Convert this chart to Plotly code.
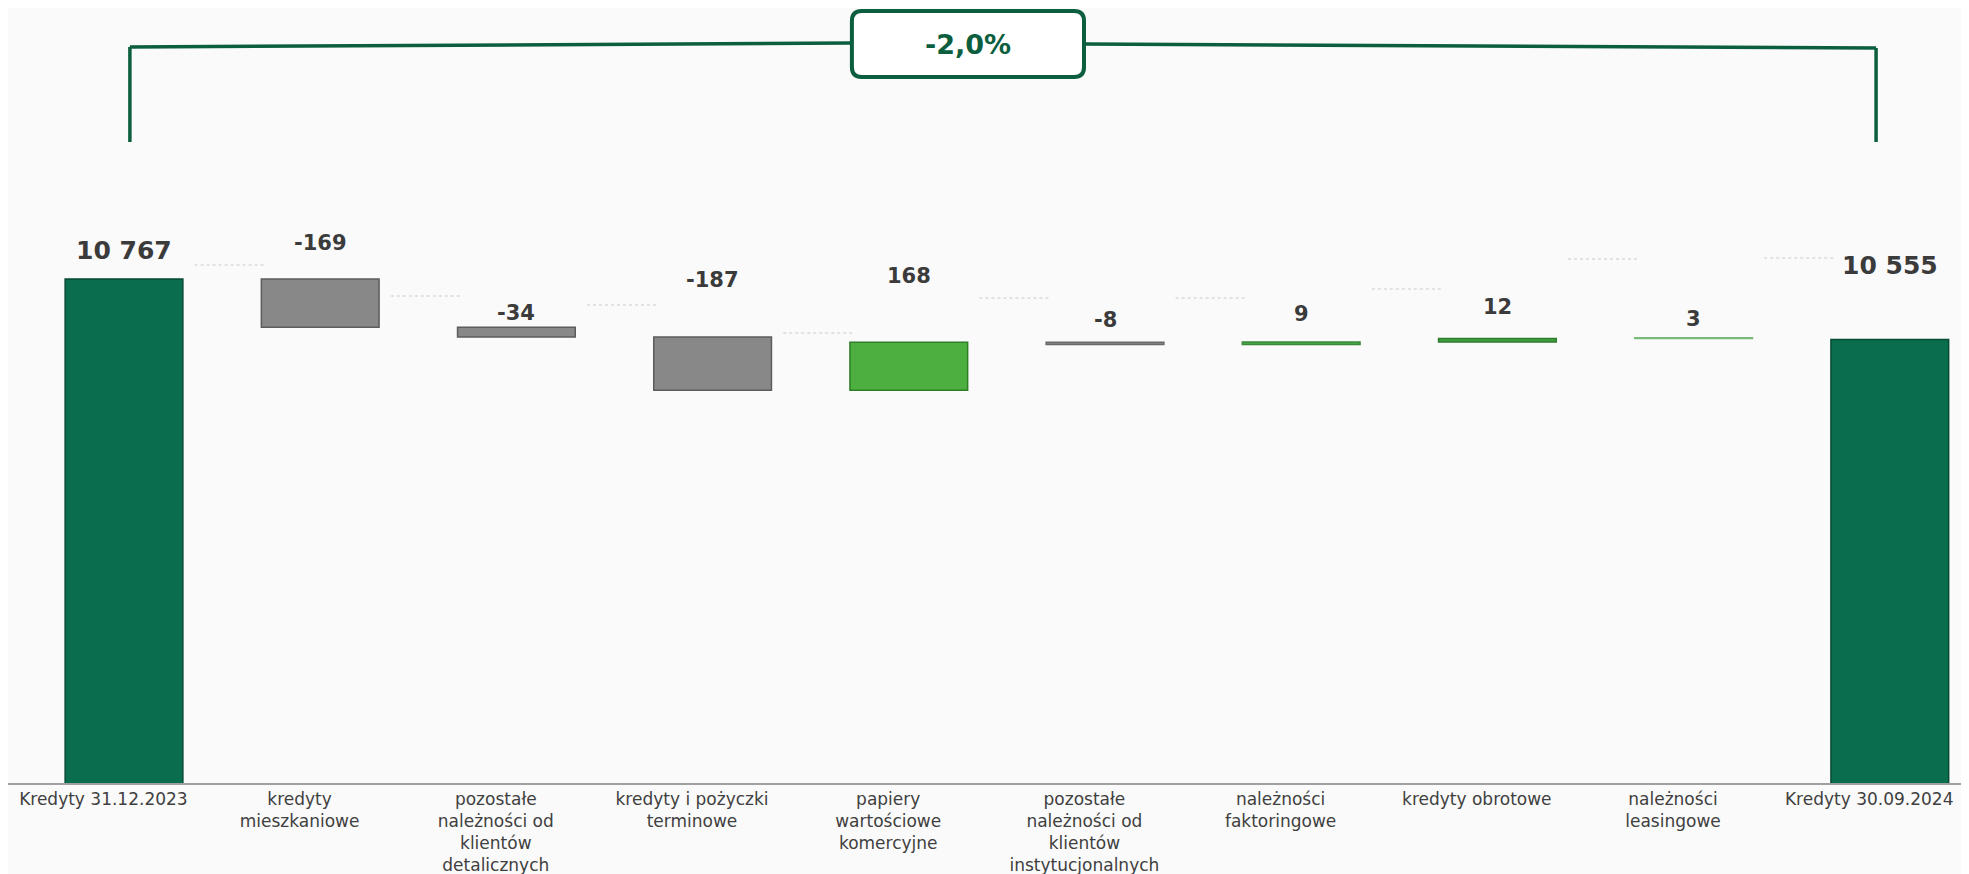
import plotly.graph_objects as go

# ---------------- data ----------------
categories = [
    "Kredyty 31.12.2023",
    "kredyty<br>mieszkaniowe",
    "pozostałe<br>należności od<br>klientów<br>detalicznych",
    "kredyty i pożyczki<br>terminowe",
    "papiery<br>wartościowe<br>komercyjne",
    "pozostałe<br>należności od<br>klientów<br>instytucjonalnych",
    "należności<br>faktoringowe",
    "kredyty obrotowe",
    "należności<br>leasingowe",
    "Kredyty 30.09.2024",
]
values = [10767, -169, -34, -187, 168, -8, 9, 12, 3, 10555]
kinds = ["total", "delta", "delta", "delta", "delta", "delta", "delta", "delta", "delta", "total"]
value_labels = ["10 767", "-169", "-34", "-187", "168", "-8", "9", "12", "3", "10 555"]
change_label = "-2,0%"
connector_levels = [10816, 10707, 10676, 10578, 10700, 10700, 10732, 10837, 10841]

# ---------------- styles ----------------
bar_colors = ["#0a6e4e", "#888888", "#888888", "#888888", "#4caf3f",
              "#888888", "#4ca84c", "#3e9e3e", "#93d193", "#0a6e4e"]
edge_colors = ["#064a34", "#5c5c5c", "#5c5c5c", "#5c5c5c", "#2f7f26",
               "#6a6a6a", "#3a8a3a", "#2e7e2e", "#79b979", "#064a34"]
label_shift = [29, 36, 14, 57, 66, 22, 28, 32, 19, 74]
GREEN = "#0b5e3e"
FONT = "DejaVu Sans"

# page geometry (the page has an 8px body margin)
PAGE_W, PAGE_H = 1969, 874
PAGE_OFF = 8
AXIS_PX = 783            # page row of the x axis
UNITS_PER_PX = 3.506
Y_MIN = 9000


def ypx(px):
    """page pixel row -> data value"""
    return Y_MIN + (AXIS_PX - px) * UNITS_PER_PX


Y_MAX = ypx(PAGE_OFF)

# ---------------- geometry from data ----------------
xs = list(range(len(categories)))
bases, heights = [], []
running = 0
for v, k in zip(values, kinds):
    if k == "total":
        bases.append(0)
        heights.append(v)
        running = v
    else:
        bases.append(running)
        heights.append(v)
        running += v
tops = [max(b, b + h) for b, h in zip(bases, heights)]

fig = go.Figure()

# connectors
cx, cy = [], []
for i, lvl in enumerate(connector_levels):
    cx += [i + 0.36, i + 0.72, None]
    cy += [lvl, lvl, None]
fig.add_trace(go.Scatter(x=cx, y=cy, mode="lines",
                         line=dict(color="#dadada", width=1.5, dash="dot"),
                         hoverinfo="skip", showlegend=False))

fig.add_trace(go.Bar(
    x=xs, y=heights, base=bases, width=0.6,
    marker=dict(color=bar_colors, line=dict(color=edge_colors, width=1.5)),
    showlegend=False, hoverinfo="skip",
))

# value labels
for i, (t, lab, k) in enumerate(zip(tops, value_labels, kinds)):
    fig.add_annotation(
        x=i, y=t, text=f"<b>{lab}</b>", showarrow=False,
        yshift=label_shift[i], yanchor="middle", xanchor="center",
        font=dict(family=FONT, size=25 if k == "total" else 21, color="#3b3b3b"),
    )

# bracket with percentage box
x_left, x_right = 0.03, 8.93
bx0, bx1 = 3.71, 4.893
by_top, by_bot = ypx(11), ypx(77)
line_style = dict(color=GREEN, width=3.5)
fig.add_shape(type="line", x0=x_left, x1=x_left, y0=ypx(142), y1=ypx(47), line=line_style)
fig.add_shape(type="line", x0=x_left, x1=bx0, y0=ypx(47), y1=ypx(43), line=line_style)
fig.add_shape(type="line", x0=bx1, x1=x_right, y0=ypx(44), y1=ypx(48), line=line_style)
fig.add_shape(type="line", x0=x_right, x1=x_right, y0=ypx(48), y1=ypx(142), line=line_style)

rx, ry = 0.05, 10 * UNITS_PER_PX
path = (f"M {bx0+rx},{by_top} L {bx1-rx},{by_top} Q {bx1},{by_top} {bx1},{by_top-ry} "
        f"L {bx1},{by_bot+ry} Q {bx1},{by_bot} {bx1-rx},{by_bot} "
        f"L {bx0+rx},{by_bot} Q {bx0},{by_bot} {bx0},{by_bot+ry} "
        f"L {bx0},{by_top-ry} Q {bx0},{by_top} {bx0+rx},{by_top} Z")
fig.add_shape(type="path", path=path, fillcolor="white", line=dict(color=GREEN, width=4))
fig.add_annotation(x=(bx0 + bx1) / 2, y=ypx(44), text=f"<b>{change_label}</b>",
                   showarrow=False, font=dict(family=FONT, size=27, color=GREEN))

PX_PER_X = 196.2
X_CENTER0 = 124          # page column of first bar centre
x_lo = (PAGE_OFF - X_CENTER0) / PX_PER_X
x_hi = (PAGE_W - X_CENTER0) / PX_PER_X

fig.update_layout(
    width=PAGE_W - PAGE_OFF, height=PAGE_H - PAGE_OFF,
    margin=dict(l=0, r=0, t=0, b=PAGE_H - AXIS_PX),
    paper_bgcolor="#fafafa", plot_bgcolor="rgba(0,0,0,0)",
    xaxis=dict(range=[x_lo, x_hi], tickvals=[i - 0.105 for i in xs], ticktext=categories,
               showline=True, linecolor="#a0a0a0", linewidth=1.5, showgrid=False,
               zeroline=False, ticks="", tickangle=0,
               tickfont=dict(family=FONT, size=17, color="#404040")),
    yaxis=dict(range=[Y_MIN, Y_MAX], visible=False, showgrid=False, zeroline=False),
    font=dict(family=FONT),
)

fig.write_html("out.html")
